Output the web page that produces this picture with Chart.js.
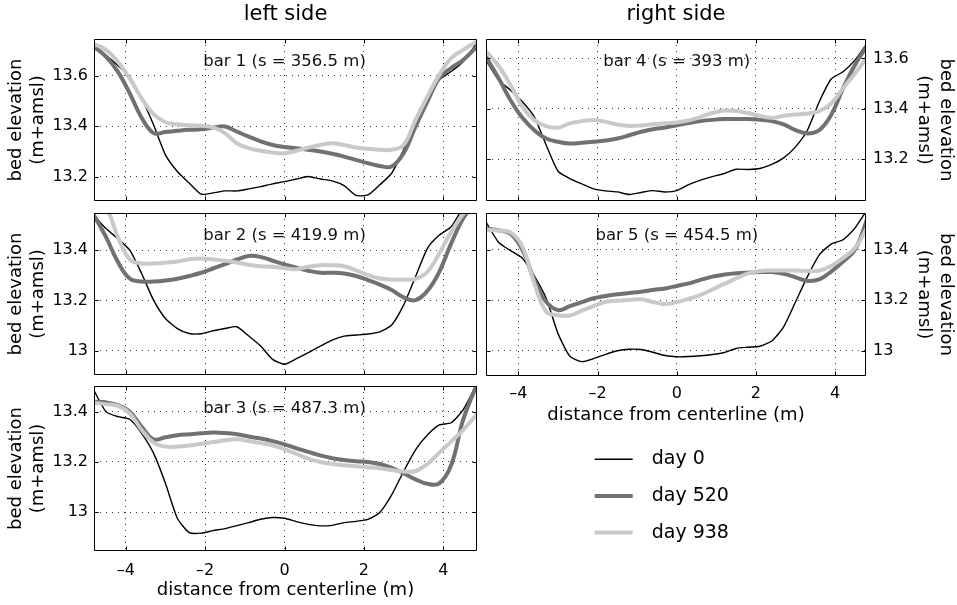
<!DOCTYPE html>
<html>
<head>
<meta charset="utf-8">
<script src="https://cdn.jsdelivr.net/npm/chart.js@4.4.0/dist/chart.umd.min.js"></script>
<style>
  html, body { margin: 0; padding: 0; background: #fff; }
  #fig { position: relative; width: 957px; height: 605px; overflow: hidden; }
  #fig canvas { position: absolute; left: 0; top: 0; }
</style>
</head>
<body>
<div id="fig">
  <canvas id="c-bar1" width="957" height="605"></canvas>
  <canvas id="c-bar2" width="957" height="605"></canvas>
  <canvas id="c-bar3" width="957" height="605"></canvas>
  <canvas id="c-bar4" width="957" height="605"></canvas>
  <canvas id="c-bar5" width="957" height="605"></canvas>
  <canvas id="c-legend" width="957" height="605"></canvas>
</div>
<script>
// Cross-section positions (m from centerline), shared by every profile.
const DIST = [-4.85, -4.5, -4.2, -3.9, -3.6, -3.3, -3.0, -2.7, -2.4, -2.1, -1.8, -1.5, -1.2,
  -0.9, -0.6, -0.3, 0, 0.3, 0.6, 0.9, 1.2, 1.5, 1.8, 2.1, 2.4, 2.7, 3.0, 3.3, 3.6, 3.9, 4.2, 4.5, 4.85];

const X_TICKS = [-4, -2, 0, 2, 4];

// Bed elevation profiles (m+amsl), one array per bar and survey day.
const bar1Day0 = [13.72, 13.68, 13.64, 13.596, 13.51, 13.405, 13.286, 13.22, 13.174, 13.13, 13.135, 13.143, 13.143,
  13.151, 13.16, 13.171, 13.18, 13.19, 13.2, 13.19, 13.183, 13.164, 13.125, 13.127, 13.167, 13.213, 13.306, 13.41, 13.504, 13.583, 13.616, 13.655, 13.73];
const bar1Day520 = [13.721, 13.675, 13.616, 13.53, 13.433, 13.372, 13.376, 13.381, 13.385, 13.387, 13.394, 13.398, 13.378,
  13.358, 13.339, 13.325, 13.317, 13.312, 13.306, 13.299, 13.29, 13.279, 13.266, 13.253, 13.242, 13.24, 13.292, 13.398, 13.497, 13.59, 13.63, 13.662, 13.715];
const bar1Day938 = [13.728, 13.702, 13.655, 13.589, 13.51, 13.447, 13.415, 13.407, 13.403, 13.401, 13.395, 13.372, 13.332,
  13.312, 13.302, 13.295, 13.292, 13.302, 13.315, 13.325, 13.332, 13.325, 13.315, 13.31, 13.306, 13.306, 13.325, 13.424, 13.517, 13.603, 13.669, 13.702, 13.735];

const bar2Day0 = [13.546, 13.486, 13.446, 13.4, 13.307, 13.201, 13.128, 13.088, 13.068, 13.067, 13.079, 13.088, 13.095,
  13.058, 13.018, 12.965, 12.946, 12.968, 12.992, 13.018, 13.042, 13.058, 13.062, 13.066, 13.075, 13.102, 13.181, 13.294, 13.407, 13.46, 13.493, 13.57, 13.64];
const bar2Day520 = [13.553, 13.453, 13.354, 13.287, 13.275, 13.275, 13.279, 13.286, 13.297, 13.31, 13.327, 13.344, 13.363,
  13.377, 13.373, 13.358, 13.343, 13.33, 13.318, 13.31, 13.31, 13.307, 13.297, 13.281, 13.263, 13.241, 13.212, 13.201, 13.238, 13.314, 13.427, 13.526, 13.6];
const bar2Day938 = [13.62, 13.572, 13.453, 13.363, 13.347, 13.347, 13.35, 13.355, 13.364, 13.367, 13.363, 13.358, 13.351,
  13.342, 13.336, 13.334, 13.328, 13.324, 13.334, 13.34, 13.34, 13.336, 13.32, 13.301, 13.287, 13.283, 13.283, 13.286, 13.314, 13.387, 13.473, 13.543, 13.6];

const bar3Day0 = [13.499, 13.4, 13.38, 13.37, 13.314, 13.235, 13.115, 12.976, 12.919, 12.917, 12.927, 12.935, 12.947,
  12.959, 12.972, 12.979, 12.976, 12.963, 12.952, 12.946, 12.948, 12.959, 12.964, 12.972, 12.999, 13.069, 13.162, 13.248, 13.307, 13.347, 13.356, 13.407, 13.51];
const bar3Day520 = [13.44, 13.437, 13.426, 13.4, 13.34, 13.29, 13.298, 13.306, 13.31, 13.314, 13.317, 13.315, 13.31,
  13.301, 13.293, 13.283, 13.27, 13.254, 13.24, 13.226, 13.215, 13.208, 13.203, 13.2, 13.192, 13.177, 13.155, 13.131, 13.113, 13.115, 13.188, 13.367, 13.51];
const bar3Day938 = [13.436, 13.43, 13.423, 13.393, 13.327, 13.277, 13.261, 13.261, 13.265, 13.272, 13.279, 13.286, 13.29,
  13.283, 13.275, 13.266, 13.25, 13.232, 13.213, 13.2, 13.192, 13.187, 13.183, 13.179, 13.175, 13.168, 13.162, 13.164, 13.192, 13.237, 13.281, 13.327, 13.39];

const bar4Day0 = [13.6, 13.514, 13.474, 13.428, 13.368, 13.256, 13.152, 13.123, 13.102, 13.082, 13.074, 13.07, 13.06,
  13.068, 13.075, 13.07, 13.075, 13.099, 13.117, 13.131, 13.143, 13.16, 13.159, 13.163, 13.179, 13.205, 13.249, 13.315, 13.428, 13.518, 13.547, 13.593, 13.67];
const bar4Day520 = [13.613, 13.521, 13.434, 13.364, 13.315, 13.282, 13.269, 13.262, 13.265, 13.269, 13.274, 13.282, 13.295,
  13.309, 13.319, 13.326, 13.335, 13.343, 13.351, 13.356, 13.359, 13.359, 13.359, 13.356, 13.351, 13.338, 13.315, 13.302, 13.315, 13.375, 13.481, 13.574, 13.66];
const bar4Day938 = [13.633, 13.57, 13.494, 13.408, 13.355, 13.331, 13.325, 13.342, 13.351, 13.355, 13.348, 13.338, 13.332,
  13.334, 13.339, 13.343, 13.346, 13.354, 13.368, 13.384, 13.393, 13.391, 13.383, 13.372, 13.364, 13.372, 13.377, 13.381, 13.391, 13.421, 13.481, 13.54, 13.615];

const bar5Day0 = [13.519, 13.429, 13.397, 13.367, 13.297, 13.208, 13.068, 12.978, 12.957, 12.969, 12.986, 13.0, 13.006,
  13.005, 12.994, 12.981, 12.976, 12.977, 12.98, 12.985, 12.993, 13.009, 13.014, 13.018, 13.039, 13.095, 13.194, 13.294, 13.38, 13.423, 13.44, 13.486, 13.57];
const bar5Day520 = [13.486, 13.477, 13.464, 13.4, 13.281, 13.194, 13.161, 13.177, 13.193, 13.208, 13.217, 13.224, 13.229,
  13.234, 13.241, 13.247, 13.257, 13.267, 13.281, 13.294, 13.302, 13.307, 13.31, 13.312, 13.312, 13.305, 13.291, 13.277, 13.283, 13.314, 13.354, 13.4, 13.54];
const bar5Day938 = [13.48, 13.476, 13.469, 13.413, 13.267, 13.155, 13.141, 13.14, 13.159, 13.177, 13.194, 13.198, 13.201,
  13.204, 13.193, 13.185, 13.193, 13.206, 13.221, 13.243, 13.265, 13.287, 13.307, 13.316, 13.318, 13.318, 13.318, 13.316, 13.318, 13.336, 13.367, 13.407, 13.5];

const W = 957;
const H = 605;
const FONT = "'DejaVu Sans', sans-serif";

// Line style per survey; day 938 is drawn last so it sits on top.
const SERIES = [
  { label: 'day 0', color: '#000000', width: 1.4, tension: 0.2, order: 2 },
  { label: 'day 520', color: '#717171', width: 4, tension: 0.4, order: 1 },
  { label: 'day 938', color: '#c9c9c9', width: 4, tension: 0.4, order: 0 },
];

// area = [left, top, right, bottom] of the plot box in page pixels
const PANELS = [
  { canvas: 'c-bar1', label: 'bar 1 (s = 356.5 m)', side: 'left', heading: 'left side', area: [94, 39, 477, 201],
    xRange: [-4.8, 4.85], yRange: [13.103, 13.745], yTicks: [13.2, 13.4, 13.6], showX: false,
    profiles: [bar1Day0, bar1Day520, bar1Day938] },
  { canvas: 'c-bar2', label: 'bar 2 (s = 419.9 m)', side: 'left', area: [94, 213, 477, 375],
    xRange: [-4.8, 4.85], yRange: [12.903, 13.548], yTicks: [13, 13.2, 13.4], showX: false,
    profiles: [bar2Day0, bar2Day520, bar2Day938] },
  { canvas: 'c-bar3', label: 'bar 3 (s = 487.3 m)', side: 'left', area: [94, 386, 477, 551],
    xRange: [-4.8, 4.85], yRange: [12.846, 13.502], yTicks: [13, 13.2, 13.4], showX: true, tickGap: 10,
    profiles: [bar3Day0, bar3Day520, bar3Day938] },
  { canvas: 'c-bar4', label: 'bar 4 (s = 393 m)', side: 'right', heading: 'right side', area: [486, 39, 866, 201],
    xRange: [-4.82, 4.78], yRange: [13.034, 13.677], yTicks: [13.2, 13.4, 13.6], showX: false,
    profiles: [bar4Day0, bar4Day520, bar4Day938] },
  { canvas: 'c-bar5', label: 'bar 5 (s = 454.5 m)', side: 'right', area: [486, 213, 866, 376],
    xRange: [-4.82, 4.78], yRange: [12.9, 13.546], yTicks: [13, 13.2, 13.4], showX: true, tickGap: 8,
    profiles: [bar5Day0, bar5Day520, bar5Day938] },
];

const X_AXIS_HEIGHT = 54;
const TICK_LEN = 4;

// Full box around the plot area with MATLAB-style inward tick marks.
const axesBox = {
  id: 'axesBox',
  afterDraw(chart) {
    const { ctx, chartArea: a, scales: { x, y } } = chart;
    const l = Math.round(a.left) + 0.5, r = Math.round(a.right) - 0.5;
    const t = Math.round(a.top) + 0.5, b = Math.round(a.bottom) - 0.5;
    ctx.save();
    ctx.strokeStyle = '#000';
    ctx.lineWidth = 1;
    ctx.beginPath();
    ctx.rect(l, t, r - l, b - t);
    x.ticks.forEach((tk) => {
      const px = Math.round(x.getPixelForValue(tk.value)) + 0.5;
      ctx.moveTo(px, t); ctx.lineTo(px, t + TICK_LEN);
      ctx.moveTo(px, b); ctx.lineTo(px, b - TICK_LEN);
    });
    y.ticks.forEach((tk) => {
      const py = Math.round(y.getPixelForValue(tk.value)) + 0.5;
      ctx.moveTo(l, py); ctx.lineTo(l + TICK_LEN, py);
      ctx.moveTo(r, py); ctx.lineTo(r - TICK_LEN, py);
    });
    ctx.stroke();
    ctx.restore();
  },
};

// "bar N (s = ...)" caption centred on the channel centreline, near the top.
const barLabel = {
  id: 'barLabel',
  afterDatasetsDraw(chart, args, opts) {
    if (!opts.text) return;
    const { ctx, chartArea: a, scales: { x } } = chart;
    ctx.save();
    ctx.font = `16.5px ${FONT}`;
    ctx.fillStyle = '#111';
    ctx.textAlign = 'center';
    ctx.textBaseline = 'middle';
    ctx.fillText(opts.text, x.getPixelForValue(0), a.top + 23);
    ctx.restore();
  },
};

function minusLabel(v) {
  return v < 0 ? '\u2013' + Math.abs(v) : String(v);
}

function buildPanel(p) {
  const isLeft = p.side === 'left';
  const [left, top, right, bottom] = p.area;
  const xH = p.showX ? X_AXIS_HEIGHT : 0;
  const yW = isLeft ? left : W - right;

  const datasets = SERIES.map((s, i) => ({
    label: s.label,
    data: DIST.map((x, k) => ({ x, y: p.profiles[i][k] })),
    borderColor: s.color,
    borderWidth: s.width,
    tension: s.tension,
    order: s.order,
    pointRadius: 0,
    borderJoinStyle: 'round',
    clip: 0,
  }));

  return new Chart(document.getElementById(p.canvas), {
    type: 'line',
    data: { datasets },
    options: {
      responsive: false,
      animation: false,
      devicePixelRatio: 1,
      events: [],
      layout: {
        padding: {
          left: isLeft ? 0 : left,
          right: isLeft ? W - right : 0,
          top: p.heading ? 0 : top,
          bottom: H - bottom - xH,
        },
      },
      plugins: {
        legend: { display: false },
        tooltip: { enabled: false },
        title: {
          display: !!p.heading,
          text: p.heading || '',
          fullSize: false,
          color: '#000',
          font: { family: FONT, size: 21, weight: 'normal' },
          padding: { top: 2, bottom: 11.8 },
        },
        barLabel: { text: p.label },
      },
      scales: {
        x: {
          type: 'linear',
          position: 'bottom',
          min: p.xRange[0],
          max: p.xRange[1],
          afterBuildTicks: (s) => { s.ticks = X_TICKS.map((value) => ({ value })); },
          afterFit: (s) => { s.height = xH; },
          grid: { color: '#3a3a3a', lineWidth: 1, drawTicks: false },
          border: { display: false, dash: [1, 5] },
          ticks: {
            display: p.showX,
            color: '#000',
            padding: p.tickGap || 0,
            font: { family: FONT, size: 16 },
            maxRotation: 0,
            callback: minusLabel,
          },
          title: {
            display: p.showX,
            text: 'distance from centerline (m)',
            color: '#000',
            font: { family: FONT, size: 18 },
            padding: { top: 0, bottom: 4 },
          },
        },
        y: {
          type: 'linear',
          position: isLeft ? 'left' : 'right',
          min: p.yRange[0],
          max: p.yRange[1],
          afterBuildTicks: (s) => { s.ticks = p.yTicks.map((value) => ({ value })); },
          afterFit: (s) => { s.width = yW; },
          grid: { color: '#3a3a3a', lineWidth: 1, drawTicks: false },
          border: { display: false, dash: [1, 5] },
          ticks: {
            color: '#000',
            padding: isLeft ? 6 : 7,
            font: { family: FONT, size: 16 },
            callback: (v) => String(Number(v.toFixed(1))),
          },
          title: {
            display: true,
            text: ['bed elevation', '(m+amsl)'],
            color: '#000',
            font: { family: FONT, size: 18 },
            padding: { top: isLeft ? 6 : 1, bottom: 0 },
          },
        },
      },
    },
    plugins: [axesBox, barLabel],
  });
}

PANELS.forEach(buildPanel);

// Shared legend, placed in the empty slot under the right column.
new Chart(document.getElementById('c-legend'), {
  type: 'line',
  data: {
    datasets: SERIES.map((s) => ({ label: s.label, data: [], borderColor: s.color, borderWidth: s.width })),
  },
  options: {
    responsive: false,
    animation: false,
    devicePixelRatio: 1,
    events: [],
    layout: { padding: { left: 577, top: 432, right: 160, bottom: 0 } },
    scales: { x: { display: false }, y: { display: false } },
    plugins: {
      tooltip: { enabled: false },
      legend: {
        position: 'top',
        align: 'start',
        maxHeight: 170,
        labels: {
          usePointStyle: true,
          pointStyle: 'line',
          pointStyleWidth: 38,
          padding: 17.7,
          color: '#000',
          font: { family: FONT, size: 19 },
          generateLabels: (chart) => chart.data.datasets.map((ds, i) => ({
            text: '\u2002' + ds.label,
            strokeStyle: ds.borderColor,
            fillStyle: ds.borderColor,
            lineWidth: ds.borderWidth,
            pointStyle: 'line',
            hidden: false,
            datasetIndex: i,
          })),
        },
      },
    },
  },
});
</script>
</body>
</html>
